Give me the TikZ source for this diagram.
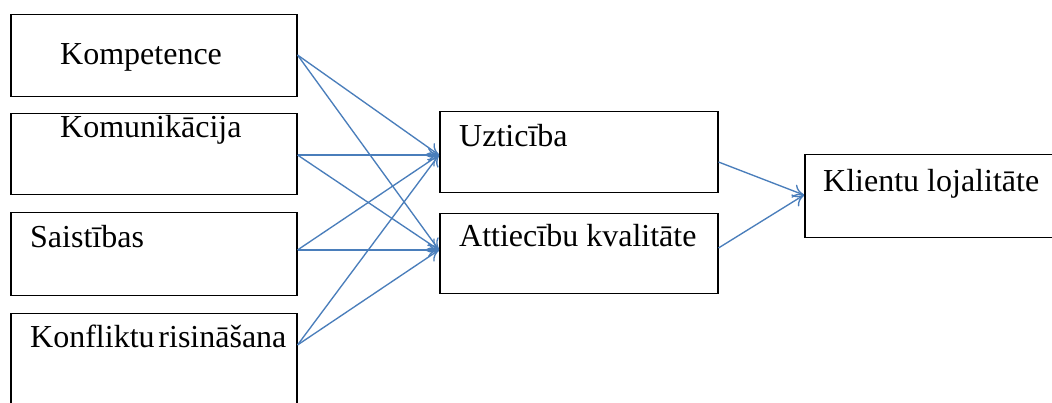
\documentclass[tikz,border=0pt]{standalone}
\usepackage{fontspec}
\setmainfont{Liberation Serif}
\usetikzlibrary{arrows.meta}
\definecolor{arrowblue}{HTML}{4A7EBB}
\tikzset{
  box/.style={draw=black, line width=1.5pt, inner sep=0pt, anchor=north west},
  lbl/.style={inner sep=0pt, anchor=base west, font=\fontsize{32}{38}\selectfont},
  conn/.style={draw=arrowblue, line width=1.35pt, -{To[length=11pt,width=14pt]}}
}
\begin{document}
\begin{tikzpicture}[x=1pt,y=-1pt]
\useasboundingbox (0,0) rectangle (1052,403);
\clip (0,0) rectangle (1052,403);
\fill[white] (0,0) rectangle (1052,403);
% left boxes
\node[box, minimum width=286pt, minimum height=82pt] (kom) at (10,14) {};
\node[box, minimum width=286pt, minimum height=81pt] (kmu) at (10,113) {};
\node[box, minimum width=286pt, minimum height=83pt] (sai) at (10,212) {};
\node[box, minimum width=286pt, minimum height=110pt] (kon) at (10,313) {};
% middle boxes
\node[box, minimum width=278pt, minimum height=81pt] (uzt) at (439,111) {};
\node[box, minimum width=278pt, minimum height=80pt] (att) at (439,213) {};
% right box
\node[box, minimum width=270pt, minimum height=83pt] (kli) at (804,154) {};
% labels
\node[lbl] (tkom) at (60,65) {Kompetence};
\node[lbl] (tkmu) at (60,138) {Komunikācija};
\node[lbl] (tsai) at (30,248) {Saistības};
\node[lbl] (tkon) at (30,347) {Konfliktu\hspace{0.12em}risināšana};
\node[lbl] (tuzt) at (459,147) {Uzticība};
\node[lbl] (tatt) at (459,247) {Attiecību kvalitāte};
\node[lbl] (tkli) at (823,192) {Klientu lojalitāte};
% anchor points
\coordinate (kom-o) at ([yshift=-41pt]kom.north east);
\coordinate (kmu-o) at ([yshift=-42pt]kmu.north east);
\coordinate (sai-o) at ([yshift=-38pt]sai.north east);
\coordinate (kon-o) at ([yshift=-32pt]kon.north east);
\coordinate (uzt-i) at ([yshift=-44pt]uzt.north west);
\coordinate (att-i) at ([yshift=-37pt]att.north west);
\coordinate (uzt-o) at ([yshift=-51pt]uzt.north east);
\coordinate (att-o) at ([yshift=-35pt]att.north east);
\coordinate (kli-i) at ([yshift=-41pt]kli.north west);
% connectors
\foreach \s in {kom,kmu,sai,kon}{
  \draw[conn] (\s-o) -- (uzt-i);
  \draw[conn] (\s-o) -- (att-i);
}
\draw[conn] (uzt-o) -- (kli-i);
\draw[conn] (att-o) -- (kli-i);
\end{tikzpicture}
\end{document}
